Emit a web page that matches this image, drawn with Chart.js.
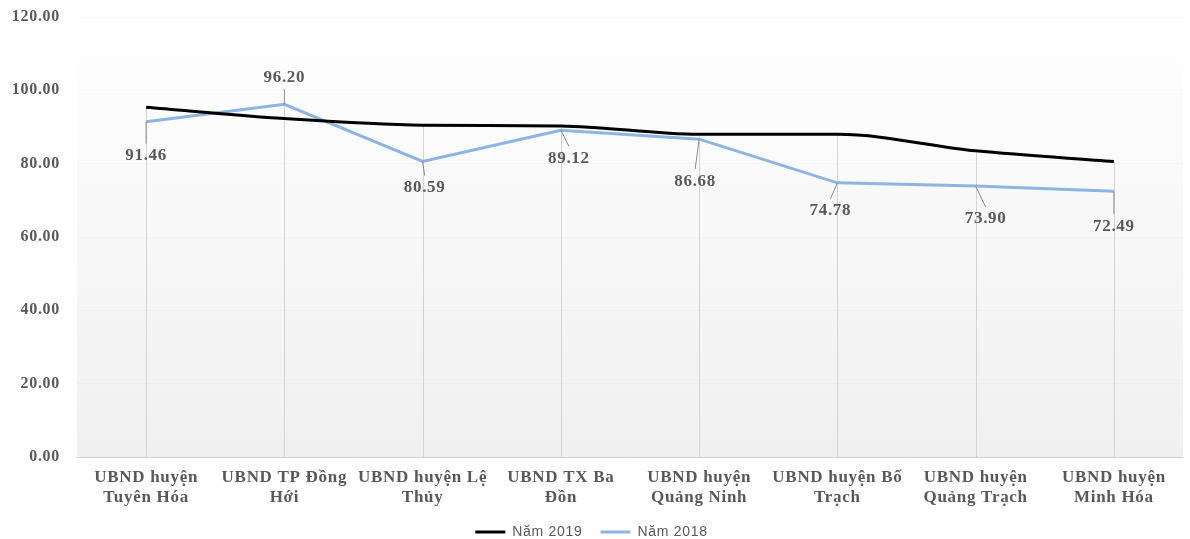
<!DOCTYPE html>
<html>
<head>
<meta charset="utf-8">
<script src="https://cdn.jsdelivr.net/npm/chart.js@4.4.1/dist/chart.umd.min.js"></script>
<style>
  html, body { margin: 0; padding: 0; background: #fff; }
  #wrap { width: 1190px; height: 539px; }
</style>
</head>
<body>
<div id="wrap"><canvas id="c" width="1190" height="539"></canvas></div>
<script>
// Đơn vị (nhãn trục hoành, hai dòng)
const categories = [
  ['UBND huyện', 'Tuyên Hóa'],
  ['UBND TP Đồng', 'Hới'],
  ['UBND huyện Lệ', 'Thủy'],
  ['UBND TX Ba', 'Đồn'],
  ['UBND huyện', 'Quảng Ninh'],
  ['UBND huyện Bố', 'Trạch'],
  ['UBND huyện', 'Quảng Trạch'],
  ['UBND huyện', 'Minh Hóa']
];
const values2019 = [95.4, 92.3, 90.5, 90.3, 88.0, 88.0, 83.5, 80.6];
const values2018 = [91.46, 96.20, 80.59, 89.12, 86.68, 74.78, 73.90, 72.49];
const yTicks = [0, 20, 40, 60, 80, 100, 120];

// Vị trí nhãn giá trị so với điểm (px) cho chuỗi 2018
const labelOffsets = [[0, 34], [0, -27], [2, 26], [8, 28], [-4, 42], [-7, 28], [10, 33], [0, 35]];

const TEXT = '#595959';
const SERIF = '"Liberation Serif", "Times New Roman", serif';
const SPACING = '0.7px';

const spacingPlugin = {
  id: 'spacing',
  beforeInit(chart) { chart.ctx.letterSpacing = SPACING; },
  beforeUpdate(chart) { chart.ctx.letterSpacing = SPACING; },
  beforeDraw(chart) { chart.ctx.letterSpacing = SPACING; }
};

const backdropPlugin = {
  id: 'backdrop',
  beforeDraw(chart) {
    const { ctx, chartArea: a } = chart;
    const g = ctx.createLinearGradient(0, a.top, 0, a.bottom);
    g.addColorStop(0, '#ffffff');
    g.addColorStop(1, '#f0f0f0');
    ctx.save();
    ctx.fillStyle = g;
    ctx.fillRect(a.left, a.top, a.right - a.left, a.bottom - a.top);
    ctx.restore();
  }
};

// Đường gióng thẳng đứng từ điểm cao nhất xuống trục hoành
const dropLinePlugin = {
  id: 'dropLines',
  beforeDatasetsDraw(chart) {
    const { ctx } = chart;
    const x = chart.scales.x, y = chart.scales.y;
    ctx.save();
    ctx.strokeStyle = '#d4d4d4';
    ctx.lineWidth = 1;
    categories.forEach((c, i) => {
      const px = Math.round(x.getPixelForValue(i)) + 0.5;
      const top = y.getPixelForValue(Math.max(values2019[i], values2018[i]));
      ctx.beginPath();
      ctx.moveTo(px, top);
      ctx.lineTo(px, y.getPixelForValue(0));
      ctx.stroke();
    });
    ctx.restore();
  }
};

// Nhãn giá trị kèm đường dẫn cho chuỗi Năm 2018
const valueLabelPlugin = {
  id: 'valueLabels',
  afterDatasetsDraw(chart) {
    const { ctx } = chart;
    const meta = chart.getDatasetMeta(1);
    ctx.save();
    ctx.font = 'bold 17px ' + SERIF;
    ctx.fillStyle = TEXT;
    ctx.textAlign = 'center';
    ctx.textBaseline = 'middle';
    meta.data.forEach((pt, i) => {
      const [dx, dy] = labelOffsets[i];
      const lx = pt.x + dx, ly = pt.y + dy;
      const ey = ly - Math.sign(dy) * 12;
      ctx.strokeStyle = '#8c8c8c';
      ctx.lineWidth = 1;
      ctx.beginPath();
      ctx.moveTo(pt.x, pt.y);
      ctx.lineTo(lx, ey);
      ctx.stroke();
      ctx.fillText(values2018[i].toFixed(2), lx, ly);
    });
    ctx.restore();
  }
};

new Chart(document.getElementById('c'), {
  type: 'line',
  data: {
    labels: categories,
    datasets: [
      {
        label: 'Năm 2019',
        data: values2019,
        borderColor: '#000000',
        backgroundColor: '#000000',
        borderWidth: 3,
        pointRadius: 0,
        cubicInterpolationMode: 'monotone'
      },
      {
        label: 'Năm 2018',
        data: values2018,
        borderColor: '#8eb4e3',
        backgroundColor: '#8eb4e3',
        borderWidth: 3,
        pointRadius: 0,
        tension: 0
      }
    ]
  },
  options: {
    responsive: false,
    animation: false,
    events: [],
    layout: { padding: { left: 0, right: 7, top: 17, bottom: -10 } },
    plugins: {
      tooltip: { enabled: false },
      legend: {
        position: 'bottom',
        labels: {
          usePointStyle: true,
          pointStyle: 'line',
          pointStyleWidth: 30,
          color: TEXT,
          padding: 18,
          font: { family: '"Liberation Sans", Arial, sans-serif', size: 14 }
        }
      }
    },
    scales: {
      x: {
        offset: true,
        grid: { display: false },
        border: { display: true, color: '#d0d0d0', width: 1 },
        ticks: {
          color: TEXT,
          maxRotation: 0,
          autoSkip: false,
          padding: 3,
          font: { family: SERIF, size: 17, weight: 'bold', lineHeight: 1.18 }
        },
        afterFit(s) { s.height = 50; }
      },
      y: {
        min: 0,
        max: 120,
        afterBuildTicks(s) { s.ticks = yTicks.map(v => ({ value: v })); },
        grid: { color: 'rgba(0,0,0,0.02)', drawTicks: false },
        border: { display: false },
        ticks: {
          color: TEXT,
          padding: 17,
          font: { family: SERIF, size: 16, weight: 'bold' },
          callback: v => Number(v).toFixed(2)
        },
        afterFit(s) { s.width = 77; s.paddingTop = 0; s.paddingBottom = 0; }
      }
    }
  },
  plugins: [spacingPlugin, backdropPlugin, dropLinePlugin, valueLabelPlugin]
});
</script>
</body>
</html>
